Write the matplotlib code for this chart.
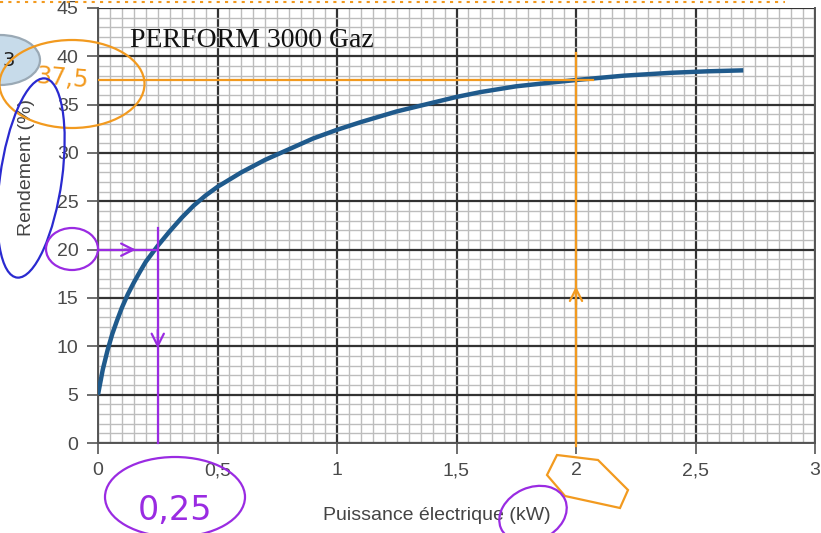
import matplotlib
matplotlib.use("Agg")
from matplotlib import pyplot as plt
from matplotlib.patches import Ellipse, Polygon
from matplotlib.lines import Line2D
from matplotlib.ticker import MultipleLocator, FuncFormatter

# Courbe de rendement
puissance = [0, 0.02, 0.04, 0.06, 0.08, 0.1, 0.125, 0.15, 0.175, 0.2, 0.25, 0.3,
             0.35, 0.4, 0.45, 0.5, 0.6, 0.7, 0.8, 0.9, 1.0, 1.1, 1.25, 1.4, 1.5,
             1.6, 1.75, 1.9, 2.0, 2.2, 2.4, 2.55, 2.7]
rendement = [5, 7.6, 9.6, 11.3, 12.7, 14.0, 15.4, 16.6, 17.7, 18.75, 20.4, 21.9,
             23.3, 24.55, 25.6, 26.5, 28.0, 29.3, 30.4, 31.5, 32.4, 33.2, 34.3, 35.2, 35.8,
             36.3, 36.9, 37.3, 37.55, 38.0, 38.3, 38.45, 38.55]

# lectures faites a la main sur la copie
lecture_violet = (0.25, 20)
lecture_orange = (2, 37.5)

W, H = 821, 533
fig = plt.figure(figsize=(W / 100, H / 100), dpi=100)
ax = fig.add_axes([98 / W, 1 - 443 / H, (815 - 98) / W, (443 - 8) / H])

ax.set_xlim(0, 3)
ax.set_ylim(0, 45)
ax.xaxis.set_major_locator(MultipleLocator(0.5))
ax.xaxis.set_minor_locator(MultipleLocator(0.05))
ax.yaxis.set_major_locator(MultipleLocator(5))
ax.yaxis.set_minor_locator(MultipleLocator(1))
ax.xaxis.set_major_formatter(FuncFormatter(lambda v, p: f"{v:g}".replace(".", ",")))

ax.grid(which="minor", color="#bdbdbd", lw=1.0)
ax.grid(which="major", color="#333333", lw=1.6)
ax.set_axisbelow(True)
for s in ["left", "bottom", "right"]:
    ax.spines[s].set_color("#555555")
    ax.spines[s].set_linewidth(1.4)
ax.spines["top"].set_visible(False)

ax.tick_params(which="major", length=8, width=1.2, color="#555555",
               labelsize=14, labelcolor="#4a4a4a", pad=6)
ax.tick_params(which="minor", length=0)
for lab in ax.get_xticklabels() + ax.get_yticklabels():
    lab.set_family("Liberation Sans")

ax.plot(puissance, rendement, color="#1f5a8c", lw=3.2, solid_capstyle="butt",
        solid_joinstyle="round", zorder=5)

ax.text(0.134, 41.6, "PERFORM 3000 Gaz", family="Liberation Serif", fontsize=20,
        color="#111111", ha="left", va="center")

ax.set_xlabel("Puissance électrique (kW)", family="Liberation Sans", fontsize=14,
              color="#444444")
ax.xaxis.set_label_coords(0.473, -0.147)
ax.set_ylabel("Rendement (%)", family="Liberation Sans", fontsize=14, color="#444444")
ax.yaxis.set_label_coords(-0.088, 0.634)

# traits de lecture
violet = "#9a2be2"
orange = "#f29a1f"
vx, vy = lecture_violet
ax.plot([0, vx], [vy, vy], color=violet, lw=1.6, zorder=6, clip_on=False)
ax.plot([vx, vx], [0, vy + 2.2], color=violet, lw=1.6, zorder=6, clip_on=False)
ax.annotate("", xy=(0.17, vy), xytext=(0.1, vy),
            arrowprops=dict(arrowstyle="->", color=violet, lw=1.6, mutation_scale=22))
ax.annotate("", xy=(vx, 9.5), xytext=(vx, 12),
            arrowprops=dict(arrowstyle="->", color=violet, lw=1.6, mutation_scale=22))

ox, oy = lecture_orange
ax.plot([0, ox + 0.07], [oy, oy], color=orange, lw=1.6, zorder=6)
ax.plot([ox, ox], [-0.3, oy + 2.8], color=orange, lw=1.6, zorder=6, clip_on=False)
ax.annotate("", xy=(ox, 16.5), xytext=(ox, 14),
            arrowprops=dict(arrowstyle="->", color=orange, lw=1.6, mutation_scale=22))

# annotations manuscrites (coordonnees figure en pixels)
def px(x, y):
    return (x / W, 1 - y / H)

def add_ellipse(cx, cy, w, h, color, fill=None, angle=0):
    e = Ellipse(px(cx, cy), w / W, h / H, angle=angle, transform=fig.transFigure,
                fill=fill is not None, facecolor=fill if fill else "none",
                edgecolor=color, lw=1.6, zorder=1 if fill else 10)
    fig.add_artist(e)

add_ellipse(0, 60, 80, 50, "#9aa9b5", fill="#c7dbea")
fig.text(*px(2, 60), "3", fontsize=14, color="#222222", va="center")
add_ellipse(72, 84, 145, 88, orange)
fig.text(*px(62, 78), "37,5", fontsize=17, color=orange, ha="center", va="center",
         family="DejaVu Sans", rotation=-5)
add_ellipse(31, 178, 62, 200, "#2a2ad0", angle=-5)
add_ellipse(72, 249, 52, 42, violet)
add_ellipse(175, 497, 140, 80, violet)
fig.text(*px(175, 510), "0,25", fontsize=24, color=violet, ha="center", va="center")
add_ellipse(533, 514, 64, 58, violet, angle=-20)
poly = Polygon([px(557, 455), px(547, 475), px(565, 496), px(620, 508),
                px(628, 490), px(598, 460)], closed=True, transform=fig.transFigure,
               fill=False, edgecolor=orange, lw=1.6)
fig.add_artist(poly)
fig.add_artist(Line2D([0, 785 / W], [1 - 2 / H, 1 - 2 / H], transform=fig.transFigure,
                      color=orange, lw=1.5, ls=(0, (1.5, 2.5))))

fig.savefig("out.png", dpi=100)
